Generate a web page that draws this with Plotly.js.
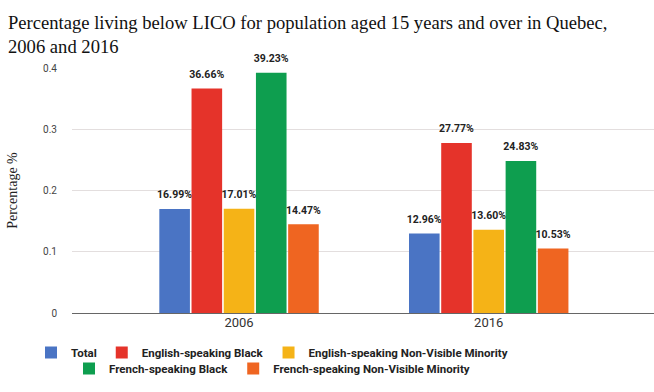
<!DOCTYPE html>
<html>
<head>
<meta charset="utf-8">
<script src="https://cdn.plot.ly/plotly-3.0.1.min.js"></script>
<style>html,body{margin:0;padding:0;background:#fff;}#chart{width:654px;height:392px;}</style>
</head>
<body>
<div id="chart"></div>
<script>
const years = ['2006', '2016'];
const seriesNames = ['Total', 'English-speaking Black', 'English-speaking Non-Visible Minority', 'French-speaking Black', 'French-speaking Non-Visible Minority'];
const total = [0.1699, 0.1296];
const engBlack = [0.3666, 0.2777];
const engNonVis = [0.1701, 0.1360];
const freBlack = [0.3923, 0.2483];
const freNonVis = [0.1447, 0.1053];
const yTicks = [0, 0.1, 0.2, 0.3, 0.4];
const yTickLabels = ['0', '0.1', '0.2', '0.3', '0.4'];

const colors = ['#4a74c4', '#e5332a', '#f5b317', '#0e9e4f', '#ef6521'];
const values = [total, engBlack, engNonVis, freBlack, freNonVis];
const legendOf = ['legend', 'legend', 'legend', 'legend2', 'legend2'];

const traces = values.map((v, i) => ({
  type: 'bar',
  name: seriesNames[i],
  x: years,
  y: v,
  marker: {color: colors[i]},
  texttemplate: '<span style="font-size:10.5px">%{y:.2%}</span><br><span style="font-size:5px">&nbsp;</span>',
  textposition: 'outside',
  constraintext: 'none',
  cliponaxis: false,
  textfont: {family: 'Roboto', size: 5, color: '#222', weight: 'bold'},
  legend: legendOf[i],
  hoverinfo: 'skip'
}));

const legendFont = {family: 'Roboto', size: 11.5, color: '#222', weight: 'bold'};

const layout = {
  width: 654, height: 392,
  margin: {l: 72, r: 0, t: 68, b: 79},
  paper_bgcolor: '#fff', plot_bgcolor: '#fff',
  barmode: 'group',
  bargap: 0.355,
  bargroupgap: 0.05,
  title: {
    text: 'Percentage living below LICO for population aged 15 years and over in Quebec,<br>2006 and 2016',
    font: {family: 'Liberation Serif', size: 18.6, color: '#111'},
    x: 8/654, xanchor: 'left', xref: 'container',
    y: 1 - 29/392, yanchor: 'top', yref: 'container'
  },
  xaxis: {
    type: 'category',
    range: [-0.669, 1.662],
    showgrid: false,
    showline: false,
    zeroline: false,
    ticks: '',
    tickfont: {family: 'Roboto', size: 13, color: '#333'},
    fixedrange: true
  },
  yaxis: {
    range: [0, 0.4],
    tickvals: yTicks,
    ticktext: yTickLabels,
    showgrid: true,
    gridcolor: '#e3dede',
    gridwidth: 1,
    zeroline: true,
    zerolinecolor: '#666',
    zerolinewidth: 1,
    ticks: 'outside',
    ticklen: 12,
    tickcolor: 'rgba(0,0,0,0)',
    tickfont: {family: 'Roboto', size: 10, color: '#444'},
    title: {text: 'Percentage %', font: {family: 'Liberation Serif', size: 14, color: '#222'}, standoff: 22},
    fixedrange: true
  },
  showlegend: true,
  legend: {
    orientation: 'h', x: 272/654, xref: 'container', xanchor: 'center',
    y: 1 - 338/392, yref: 'container', yanchor: 'top',
    bgcolor: 'rgba(0,0,0,0)',
    font: legendFont,
    itemwidth: 30, tracegroupgap: 0, traceorder: 'normal'
  },
  legend2: {
    orientation: 'h', x: 272/654, xref: 'container', xanchor: 'center',
    y: 1 - 354/392, yref: 'container', yanchor: 'top',
    bgcolor: 'rgba(0,0,0,0)',
    font: legendFont,
    itemwidth: 30, tracegroupgap: 0, traceorder: 'normal'
  }
};

Plotly.newPlot('chart', traces, layout, {displayModeBar: false, staticPlot: true});
</script>
</body>
</html>
